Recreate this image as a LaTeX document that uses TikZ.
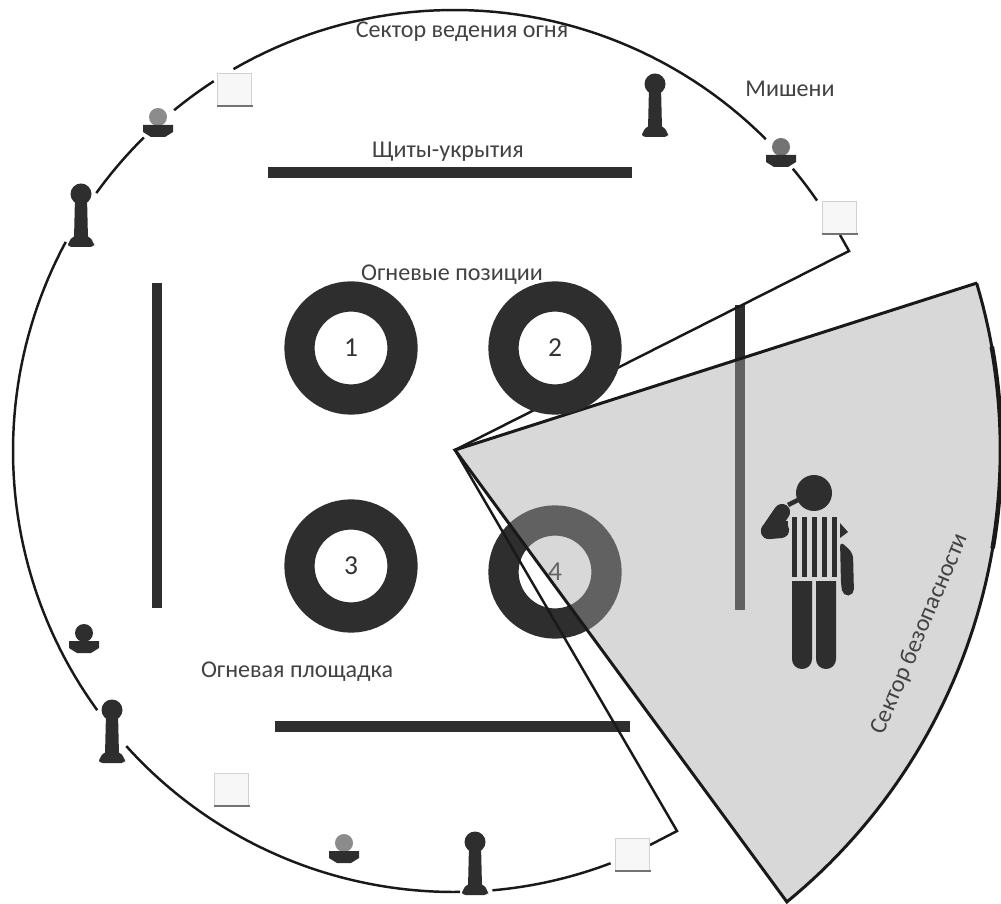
\documentclass[tikz,border=0pt]{standalone}
\usepackage{fontspec}
\setmainfont{Carlito}
\definecolor{inkdark}{HTML}{2E2E2E}
\definecolor{textgrey}{HTML}{424242}
\tikzset{
  rangeline/.style={draw=black!90,line width=0.7pt},
  sectorline/.style={draw=black!90,line width=0.85pt},
  shield/.style={fill=inkdark},
  tyre/.style={circle,draw=inkdark,line width=8.6pt,fill=white,minimum size=1.03cm,inner sep=0pt,text=black!80,font=\fontsize{7.8}{9}\selectfont},
  caption/.style={text=textgrey,font=\fontsize{6.85}{8}\selectfont,inner sep=0pt},
  pawnmark/.pic={
    \fill[inkdark] (-6,-50) -- (6,-50) -- (7,-8) -- (-7,-8) -- cycle;
    \fill[inkdark] (0,-53) circle (10.5);
    \fill[inkdark,rounded corners=1pt] (-13,0) -- (-13,-4) -- (-8,-11) -- (8,-11) -- (13,-4) -- (13,0) -- cycle;
  },
  ballmark/.pic={
    \fill[#1] (0,-20) circle (9);
    \fill[inkdark] (-15,-12) -- (15,-12) -- (15,-5) -- (7,0) -- (-7,0) -- (-15,-5) -- cycle;
  },
  squaremark/.pic={
    \filldraw[fill=black!3,draw=black!18,line width=0.25pt] (0,0) rectangle (34,-33);
    \draw[black!55,line width=0.5pt] (0,0) -- (36,0);
  }
}
\begin{document}
\begin{tikzpicture}[x=0.01cm,y=-0.01cm]
  \useasboundingbox (0,0) rectangle (1001,904);
  \clip (0,0) rectangle (1001,904);
  \fill[white] (0,0) rectangle (1001,904);

  % firing sector outline
  \foreach \from/\to in {-39.8/-34.6,-120/-45,-129.4/-123,-144.2/-134.7,-216/-151.7,-270.8/-222,-290.8/-275}
    \draw[rangeline] plot[domain=\from:\to,samples=50] ({454+441*cos(\x)},{451+441*sin(\x)});

  \coordinate (apex) at (455,450);
  \coordinate (cornerup) at (849,251);
  \coordinate (cornerlow) at (677,831);
  \coordinate (arcup) at (840,235);
  \coordinate (arclow) at (650,845);

  % shields
  \fill[shield] (268,167) rectangle (632,178);
  \fill[shield] (275,721) rectangle (630,732);
  \fill[shield] (152,283) rectangle (162,608);
  \fill[shield] (735,305) rectangle (745,610);

  % firing positions
  \node[tyre] (pos1) at (351,348) {1};
  \node[tyre] (pos3) at (351,566) {3};
  \node[tyre] (pos4) at (555,572) {4};

  \draw[rangeline] (arcup) -- (cornerup) -- (apex) -- (cornerlow) -- (arclow);

  % safety sector
  \filldraw[sectorline,fill=black!35,fill opacity=0.43] (apex) -- (977,283)
    -- plot[domain=-16.6:50.7,samples=60] ({417+584*cos(\x)},{450+584*sin(\x)}) -- cycle;
  \draw[sectorline,line width=1.3pt] plot[domain=-10.2:9.7,samples=20] ({417+584*cos(\x)},{450+584*sin(\x)});

  \node[tyre] (pos2) at (555,348) {2};

  % targets
  \pic at (655,137) {pawnmark};
  \pic at (81,247) {pawnmark};
  \pic at (112,763) {pawnmark};
  \pic at (475,895) {pawnmark};
  \pic at (158,137) {ballmark={black!45}};
  \pic at (781,167) {ballmark={black!55}};
  \pic at (84,653) {ballmark={inkdark}};
  \pic at (344,863) {ballmark={black!45}};
  \pic at (217,106) {squaremark};
  \pic at (822,234) {squaremark};
  \pic at (214,806) {squaremark};
  \pic at (615,871) {squaremark};

  % referee
  \fill[inkdark] (814,493) circle (18);
  \draw[inkdark,line width=4.6pt,line cap=round] (769,531) -- (782,512);
  \draw[inkdark,line width=4.6pt,line cap=round] (769,531) -- (781,530);
  \draw[inkdark,line width=1.3pt] (788,505) -- (798,500);
  \foreach \xs in {792,802,812,822,832}
    \fill[inkdark] (\xs,517) rectangle ++(5,60);
  \fill[inkdark] (784,521) rectangle (788,535);
  \fill[inkdark] (840,523) -- (848,532) -- (840,538) -- cycle;
  \fill[inkdark] (792,581) -- (812,581) [rounded corners=2.8pt] -- (812,669) -- (792,669) [sharp corners] -- cycle;
  \fill[inkdark] (816,581) -- (836,581) [rounded corners=2.8pt] -- (836,669) -- (816,669) [sharp corners] -- cycle;
  \fill[inkdark,rounded corners=1.6pt] (840,541) -- (853,553) -- (854,595) -- (843,596) -- (841,585) -- cycle;

  % labels
  \node[caption] (lblsector) at (462,32) {Сектор ведения огня};
  \node[caption] (lblshields) at (448,152) {Щиты-укрытия};
  \node[caption] (lblpositions) at (452,275) {Огневые позиции};
  \node[caption] (lbltargets) at (790,89) {Мишени};
  \node[caption] (lblarea) at (297,672) {Огневая площадка};
  \node[caption,rotate=67] (lblsafety) at (920,634) {Сектор безопасности};
\end{tikzpicture}
\end{document}
